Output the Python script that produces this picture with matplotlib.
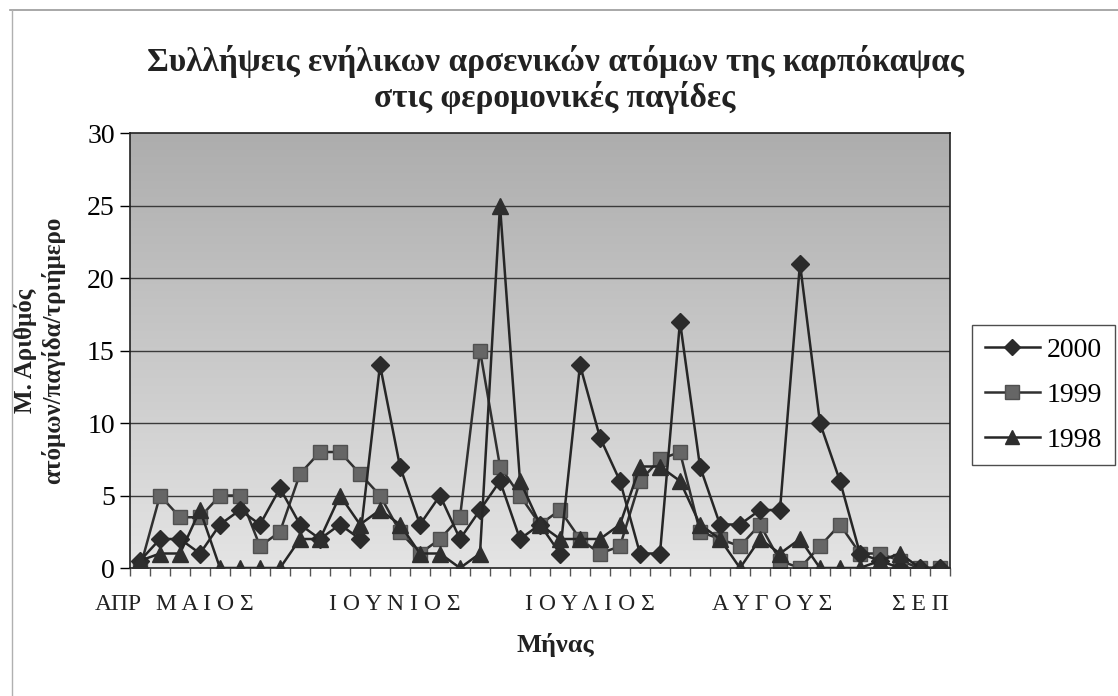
import numpy as np
import matplotlib
matplotlib.use("Agg")
import matplotlib.pyplot as plt
from matplotlib.lines import Line2D

plt.rcParams['font.family'] = ['Liberation Serif', 'DejaVu Serif']

# mean adult males caught per trap per 3 days, 41 sampling dates (April - September)
y2000 = [0.5, 2, 2, 1, 3, 4, 3, 5.5, 3, 2, 3, 2, 14, 7, 3, 5, 2, 4, 6, 2, 3,
         1, 14, 9, 6, 1, 1, 17, 7, 3, 3, 4, 4, 21, 10, 6, 1, 0.5, 0, 0, 0]
y1999 = [0, 5, 3.5, 3.5, 5, 5, 1.5, 2.5, 6.5, 8, 8, 6.5, 5, 2.5, 1, 2, 3.5, 15, 7, 5, 3,
         4, 2, 1, 1.5, 6, 7.5, 8, 2.5, 2, 1.5, 3, 0.5, 0, 1.5, 3, 1, 1, 0.5, 0, 0]
y1998 = [0.5, 1, 1, 4, 0, 0, 0, 0, 2, 2, 5, 3, 4, 3, 1, 1, 0, 1, 25, 6, 3,
         2, 2, 2, 3, 7, 7, 6, 3, 2, 0, 2, 1, 2, 0, 0, 0, 0.5, 1, 0, 0]

months = ["ΑΠΡ", "ΜΑΙΟΣ", "ΙΟΥΝΙΟΣ", "ΙΟΥΛΙΟΣ", "ΑΥΓΟΥΣ", "ΣΕΠ"]
month_pos = [-1.1, 3.25, 12.75, 22.5, 31.6, 39.0]

x = np.arange(len(y2000))

fig = plt.figure(figsize=(11.18, 6.96), dpi=100)
ax = fig.add_axes([0.1163, 0.1839, 0.7334, 0.625])

# gray gradient in the plot area, darker at the top
grad = np.linspace(0, 1, 256).reshape(-1, 1)
cmap = matplotlib.colors.LinearSegmentedColormap.from_list("bg", ["#e4e4e4", "#adadad"])
ax.imshow(grad, aspect='auto', cmap=cmap, extent=[-0.5, len(x) - 0.5, 0, 30],
          origin='lower', zorder=0)

for yv in range(5, 30, 5):
    ax.axhline(yv, color="#3a3a3a", lw=1.0, zorder=1)

ax.plot(x, y2000, color="#262626", lw=1.8, marker='D', ms=9, mfc="#2b2b2b",
        mec="#2b2b2b", label="2000", zorder=3)
ax.plot(x, y1999, color="#303030", lw=1.8, marker='s', ms=10, mfc="#666666",
        mec="#505050", label="1999", zorder=2)
ax.plot(x, y1998, color="#262626", lw=1.8, marker='^', ms=11, mfc="#2e2e2e",
        mec="#2e2e2e", label="1998", zorder=4)

ax.set_xlim(-0.5, len(x) - 0.5)
ax.set_ylim(0, 30)
ax.set_yticks(range(0, 31, 5))
ax.tick_params(axis='y', labelsize=20, length=7, width=1, direction='out', pad=4)
ax.set_xticks(np.arange(-0.5, len(x), 1))
ax.set_xticklabels([])
ax.tick_params(axis='x', length=6, width=1, direction='out', color="#555555")
for s in ax.spines.values():
    s.set_color("#222222")
    s.set_linewidth(1.2)

for lab, p in zip(months, month_pos):
    txt = lab if lab == "ΑΠΡ" else " ".join(lab)
    ax.text(p, -0.06, txt, transform=ax.get_xaxis_transform(), ha='center',
            va='top', fontsize=17, color="#222222")

ax.set_ylabel("Μ. Αριθμός\nατόμων/παγίδα/τριήμερο", fontsize=18, fontweight='bold',
              labelpad=16, color="#222222")
fig.text(555 / 1118, 1 - 645 / 696, "Μήνας", ha='center', va='center', fontsize=19,
         fontweight='bold', color="#222222")
fig.text(555 / 1118, 1 - 62 / 696, "Συλλήψεις ενήλικων αρσενικών ατόμων της καρπόκαψας",
         ha='center', va='center', fontsize=24, fontweight='bold', color="#222222")
fig.text(555 / 1118, 1 - 98 / 696, "στις φερομονικές παγίδες",
         ha='center', va='center', fontsize=24, fontweight='bold', color="#222222")

leg = fig.legend(loc='center left', bbox_to_anchor=(972 / 1118, 1 - 395 / 696),
                 fontsize=20, frameon=True, fancybox=False, edgecolor="#222222",
                 handlelength=2.0, handletextpad=0.25, labelspacing=0.7,
                 borderpad=0.45, borderaxespad=0, markerscale=0.95)
leg.get_frame().set_linewidth(1.0)

# faint border of the chart area (top and left)
fig.add_artist(Line2D([10 / 1118, 1], [1 - 10 / 696] * 2, color="#9a9a9a", lw=1.2))
fig.add_artist(Line2D([12 / 1118] * 2, [0, 1 - 10 / 696], color="#b0b0b0", lw=1.0))

fig.savefig("out.png", dpi=100)
